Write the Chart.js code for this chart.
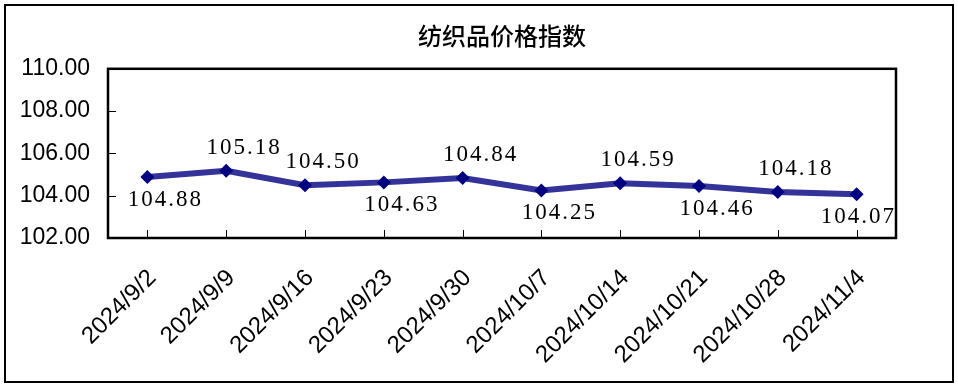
<!DOCTYPE html>
<html>
<head>
<meta charset="utf-8">
<script src="https://cdn.jsdelivr.net/npm/chart.js@4/dist/chart.umd.min.js"></script>
<style>
  body { margin: 0; background: #fff; }
  .frame { position: absolute; left: 4px; top: 4px; width: 950px; height: 379px; border: 2px solid #000; box-sizing: border-box; }
  .box { position: relative; width: 946px; height: 375px; }
</style>
</head>
<body>
<div class="frame"><div class="box"><canvas id="chart"></canvas></div></div>
<script>
const dates = ["2024/9/2", "2024/9/9", "2024/9/16", "2024/9/23", "2024/9/30",
  "2024/10/7", "2024/10/14", "2024/10/21", "2024/10/28", "2024/11/4"];
const priceIndex = [104.88, 105.18, 104.50, 104.63, 104.84, 104.25, 104.59, 104.46, 104.18, 104.07];
const yTicks = [102, 104, 106, 108, 110];
// where each value label sits relative to its point
const labelSide = ["below", "above", "above", "below", "above", "below", "above", "below", "above", "below"];

// plot frame plus the short tick marks that point into the plot
const frameTicks = {
  id: "frameTicks",
  beforeDatasetsDraw(chart) {
    const { ctx, chartArea: a, scales } = chart;
    ctx.save();
    ctx.strokeStyle = "#000";
    ctx.lineWidth = 2.5;
    ctx.strokeRect(a.left, a.top, a.right - a.left, a.bottom - a.top);
    ctx.lineWidth = 1;
    ctx.beginPath();
    scales.x.ticks.forEach((t, i) => {
      const x = Math.round(scales.x.getPixelForTick(i)) + 0.5;
      ctx.moveTo(x, a.bottom);
      ctx.lineTo(x, a.bottom - 8);
    });
    scales.y.ticks.forEach((t, i) => {
      const y = Math.round(scales.y.getPixelForTick(i)) + 0.5;
      ctx.moveTo(a.left, y);
      ctx.lineTo(a.left + 8, y);
    });
    ctx.stroke();
    ctx.restore();
  }
};

const valueLabels = {
  id: "valueLabels",
  afterDatasetsDraw(chart) {
    const { ctx, chartArea: a } = chart;
    const meta = chart.getDatasetMeta(0);
    ctx.save();
    ctx.font = "23px 'Liberation Serif', 'DejaVu Serif', serif";
    ctx.letterSpacing = "2px";
    ctx.fillStyle = "#000";
    ctx.textAlign = "center";
    ctx.textBaseline = "middle";
    meta.data.forEach((pt, i) => {
      const text = priceIndex[i].toFixed(2);
      const w = ctx.measureText(text).width;
      let x = pt.x + 18;
      if (x + w / 2 > a.right) x = a.right - w / 2;
      const y = labelSide[i] === "above" ? pt.y - 23 : pt.y + 23;
      ctx.fillText(text, x, y);
    });
    ctx.restore();
  }
};

new Chart(document.getElementById("chart"), {
  type: "line",
  data: {
    labels: dates,
    datasets: [{
      label: "纺织品价格指数",
      data: priceIndex,
      borderColor: "#333399",
      borderWidth: 6,
      backgroundColor: "#000080",
      pointStyle: "rectRot",
      pointRadius: 7,
      pointBorderWidth: 0,
      pointBackgroundColor: "#000080",
      fill: false,
      tension: 0
    }]
  },
  options: {
    responsive: true,
    maintainAspectRatio: false,
    animation: false,
    layout: { padding: { left: 0, right: 56, top: 0, bottom: 0 } },
    plugins: {
      legend: { display: false },
      tooltip: { enabled: false },
      title: {
        display: true,
        text: "纺织品价格指数",
        fullSize: false,
        color: "#000",
        font: { family: "'Noto Sans CJK SC', sans-serif", size: 24, weight: 500 },
        padding: { top: 15, bottom: 19 }
      }
    },
    scales: {
      x: {
        offset: true,
        grid: { display: false, drawTicks: false },
        border: { display: false },
        ticks: {
          color: "#000",
          font: { family: "'Liberation Sans', Arial, sans-serif", size: 24 },
          minRotation: 45,
          maxRotation: 45,
          labelOffset: 5,
          padding: 26,
          autoSkip: false
        },
        afterFit(scale) { scale.height = 143; }
      },
      y: {
        min: yTicks[0],
        max: yTicks[yTicks.length - 1],
        grid: { display: false, drawTicks: false },
        border: { display: false },
        afterBuildTicks(scale) { scale.ticks = yTicks.map(v => ({ value: v })); },
        ticks: {
          color: "#000",
          font: { family: "'Liberation Sans', Arial, sans-serif", size: 23 },
          padding: 18,
          callback: v => Number(v).toFixed(2)
        },
        afterFit(scale) { scale.width = 102; }
      }
    }
  },
  plugins: [frameTicks, valueLabels]
});
</script>
</body>
</html>
